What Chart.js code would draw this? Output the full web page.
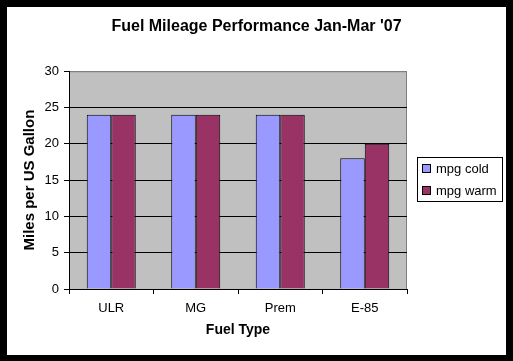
<!DOCTYPE html>
<html>
<head>
<meta charset="utf-8">
<script src="https://cdn.jsdelivr.net/npm/chart.js@4"></script>
<style>
  html, body { margin: 0; padding: 0; background: #000; }
  #wrap { position: absolute; left: 7px; top: 7px; width: 499px; height: 348px; background: #fff; }
</style>
</head>
<body>
<div id="wrap"><canvas id="chart" width="499" height="348"></canvas></div>
<script>
// chart data
const fuelTypes = ["ULR", "MG", "Prem", "E-85"];
const mpgCold = [24, 24, 24, 18];
const mpgWarm = [24, 24, 24, 20];
const yTicks = [0, 5, 10, 15, 20, 25, 30];

const font = "'Liberation Sans', Arial, sans-serif";

// gray plot area + hand drawn legend box
const plotStuff = {
    id: 'plotStuff',
    beforeDraw(chart) {
        const a = chart.chartArea, ctx = chart.ctx;
        ctx.save();
        ctx.fillStyle = '#c0c0c0';
        ctx.fillRect(a.left, a.top, a.right - a.left, a.bottom - a.top);
        ctx.strokeStyle = '#808080';
        ctx.lineWidth = 1;
        ctx.strokeRect(a.left + 0.5, a.top + 0.5, a.right - a.left - 1, a.bottom - a.top);
        ctx.restore();
    },
    afterDraw(chart) {
        const a = chart.chartArea, ctx = chart.ctx;
        const x = a.right + 10, y = 150, w = 85, h = 44;
        ctx.save();
        ctx.fillStyle = '#fff';
        ctx.fillRect(x, y, w, h);
        ctx.strokeStyle = '#000';
        ctx.lineWidth = 1;
        ctx.strokeRect(x + 0.5, y + 0.5, w, h);
        ctx.font = '13px ' + font;
        ctx.textBaseline = 'middle';
        chart.data.datasets.forEach((ds, i) => {
            const cy = y + 12 + i * 22;
            ctx.fillStyle = ds.backgroundColor;
            ctx.fillRect(x + 5, cy - 4, 8, 8);
            ctx.strokeRect(x + 5.5, cy - 4.5, 8, 8);
            ctx.fillStyle = '#000';
            ctx.fillText(ds.label, x + 19, cy);
        });
        ctx.restore();
    }
};

new Chart(document.getElementById('chart'), {
    type: 'bar',
    data: {
        labels: fuelTypes,
        datasets: [
            { label: 'mpg cold', data: mpgCold, backgroundColor: '#9999ff', borderColor: '#000', borderWidth: 1 },
            { label: 'mpg warm', data: mpgWarm, backgroundColor: '#993366', borderColor: '#000', borderWidth: 1 }
        ]
    },
    options: {
        responsive: false,
        animation: false,
        layout: { padding: 0 },
        datasets: { bar: { barPercentage: 1, categoryPercentage: 0.58 } },
        plugins: {
            legend: { display: false },
            tooltip: { enabled: false },
            title: {
                display: true,
                text: "Fuel Mileage Performance Jan-Mar '07",
                color: '#000',
                font: { family: font, size: 16, weight: 'bold' },
                padding: { top: 10, bottom: 35 }
            }
        },
        scales: {
            x: {
                grid: { drawOnChartArea: false, color: '#000', tickLength: 5 },
                border: { color: '#000' },
                ticks: { color: '#000', font: { family: font, size: 13 }, padding: 7 },
                title: { display: true, text: 'Fuel Type', color: '#000', font: { family: font, size: 14, weight: 'bold' }, padding: { top: 4, bottom: 16 } },
                afterFit(s) { s.height = 66; }
            },
            y: {
                min: 0, max: 30,
                afterBuildTicks(s) { s.ticks = yTicks.map(v => ({ value: v })); },
                grid: {
                    color: ctx => ctx.tick && ctx.tick.value === 30 ? '#808080' : '#000',
                    tickColor: '#000',
                    tickLength: 5
                },
                border: { color: '#000' },
                ticks: { color: '#000', font: { family: font, size: 13 }, padding: 5 },
                title: { display: true, text: 'Miles per US Gallon', color: '#000', font: { family: font, size: 15, weight: 'bold' }, padding: { top: 14, bottom: 4 } },
                afterFit(s) { s.width = 62; }
            },
            // empty right axis only reserves the room where the legend box goes
            yRight: {
                position: 'right',
                display: true,
                grid: { display: false },
                border: { display: false },
                ticks: { display: false },
                afterFit(s) { s.width = 99; }
            }
        }
    },
    plugins: [plotStuff]
});
</script>
</body>
</html>
